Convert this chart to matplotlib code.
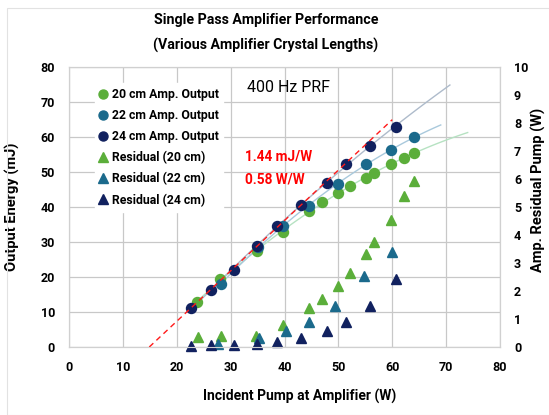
import matplotlib
matplotlib.use("Agg")
import matplotlib.pyplot as plt
import numpy as np
from matplotlib.lines import Line2D
from matplotlib.patches import Rectangle

# output energy (mJ) vs incident pump (W)
pump_20 = [23.8, 28.1, 34.9, 39.7, 44.5, 47.0, 50.0, 52.2, 55.1, 56.6, 59.8, 62.2, 64.1]
energy_20 = [13.0, 19.4, 27.3, 33.0, 38.8, 41.4, 44.0, 45.9, 48.4, 49.8, 52.2, 54.0, 55.5]
pump_22 = [28.3, 35.0, 39.7, 44.5, 50.0, 55.1, 59.8, 64.1]
energy_22 = [18.1, 28.6, 34.5, 40.4, 46.7, 52.2, 56.4, 59.9]
pump_24 = [22.7, 26.4, 30.6, 34.9, 38.6, 43.0, 47.8, 51.5, 55.8, 60.7]
energy_24 = [11.2, 16.4, 21.9, 29.0, 34.7, 40.5, 47.0, 52.3, 57.3, 63.0]

# residual pump (W)
res_pump_20 = [23.9, 28.2, 34.8, 39.7, 44.6, 47.0, 49.9, 52.2, 55.1, 56.6, 59.7, 62.2, 64.1]
res_20 = [0.34, 0.38, 0.41, 0.79, 1.38, 1.70, 2.19, 2.64, 3.33, 3.74, 4.55, 5.38, 5.92]
res_pump_22 = [27.7, 35.2, 40.3, 44.5, 49.4, 54.8, 59.9]
res_22 = [0.10, 0.32, 0.56, 0.88, 1.47, 2.55, 3.41]
res_pump_24 = [22.7, 26.4, 30.6, 34.9, 38.6, 43.0, 47.8, 51.5, 55.9, 60.7]
res_24 = [0.02, 0.07, 0.07, 0.10, 0.18, 0.32, 0.58, 0.91, 1.47, 2.43]

SLOPE = 1.44      # mJ/W
THRESHOLD = 14.9  # W, x-intercept of slope line

C20 = "#5BAE3A"
C22 = "#1B6A8C"
C24 = "#11215F"
T20 = "#B6E2C2"
T22 = "#A9C9DC"
T24 = "#AEBBCB"

plt.rcParams.update({
    "font.family": ["Roboto", "DejaVu Sans"],
    "font.weight": "bold",
    "axes.labelweight": "bold",
    "font.size": 9,
})

fig = plt.figure(figsize=(5.49, 4.15), dpi=100)
ax = fig.add_axes([69 / 549, 1 - 347 / 415, 431 / 549, 280 / 415])
ax2 = ax.twinx()

fig.patches.append(Rectangle((7 / 549, 0), 1, 1 - 8 / 415, transform=fig.transFigure,
                             fill=False, edgecolor="#E2E2E2", linewidth=0.8))

ax.set_xlim(0, 80)
ax.set_ylim(0, 80)
ax2.set_ylim(0, 10)
ax.set_xticks(range(0, 81, 10))
ax.set_yticks(range(0, 81, 10))
ax2.set_yticks(range(0, 11, 1))
ax.grid(True, color="#C8C8C8", linewidth=0.9)
ax.set_axisbelow(True)
for a in (ax, ax2):
    for s in a.spines.values():
        s.set_color("#D0D0D0")
ax.tick_params(length=0, labelsize=9, pad=10)
ax2.tick_params(length=0, labelsize=9, pad=10)

# trendlines (2nd order fits)
for px, py, end, col in [(pump_20, energy_20, 74, T20), (pump_22, energy_22, 69, T22),
                         (pump_24, energy_24, 70.7, T24)]:
    coef = np.polyfit(px, py, 2)
    xx = np.linspace(min(px), end, 100)
    ax.plot(xx, np.polyval(coef, xx), color=col, linewidth=1.0, zorder=2)

xs = np.array([THRESHOLD, 60])
ax.plot(xs, SLOPE * (xs - THRESHOLD), color="#FF1A1A", linestyle=(0, (4, 3)),
        linewidth=1.0, zorder=4)

ms = 7.2
ax.plot(pump_20, energy_20, "o", color=C20, ms=ms, zorder=3)
ax.plot(pump_22, energy_22, "o", color=C22, ms=ms, zorder=3)
ax.plot(pump_24, energy_24, "o", color=C24, ms=ms, zorder=3)
ax2.plot(res_pump_20, res_20, "^", color=C20, ms=6.5, clip_on=False)
ax2.plot(res_pump_22, res_22, "^", color=C22, ms=6.5, clip_on=False)
ax2.plot(res_pump_24, res_24, "^", color=C24, ms=6.5, clip_on=False)

ax.text(40.8, 74.1, "400 Hz PRF", fontsize=11.5, fontweight="normal",
        ha="center", va="center")
ax.text(32.6, 54.3, "1.44 mJ/W", color="#FF0000", fontsize=9.8, va="center")
ax.text(32.6, 47.8, "0.58 W/W", color="#FF0000", fontsize=9.8, va="center")

ax.set_xlabel("Incident Pump at Amplifier (W)", fontsize=10)
ax.xaxis.set_label_coords(0.536, -0.15)
ax.set_ylabel("Output Energy (mJ)", fontsize=10.5)
ax.yaxis.set_label_coords(-0.114, 0.5)
ax2.set_ylabel("Amp. Residual Pump (W)", fontsize=10.5)
ax2.yaxis.set_label_coords(1.072, 0.56)

fig.text(266 / 549, 1 - 20 / 415, "Single Pass Amplifier Performance",
         ha="center", va="center", fontsize=10.2)
fig.text(266 / 549, 1 - 45 / 415, "(Various Amplifier Crystal Lengths)",
         ha="center", va="center", fontsize=10.2)

handles = [
    Line2D([0], [0], marker="o", color="none", markerfacecolor=C20, markeredgecolor=C20,
           ms=6.5, label="20 cm Amp. Output"),
    Line2D([0], [0], marker="o", color="none", markerfacecolor=C22, markeredgecolor=C22,
           ms=6.5, label="22 cm Amp. Output"),
    Line2D([0], [0], marker="o", color="none", markerfacecolor=C24, markeredgecolor=C24,
           ms=6.5, label="24 cm Amp. Output"),
    Line2D([0], [0], marker="^", color="none", markerfacecolor=C20, markeredgecolor=C20,
           ms=6.5, label="Residual (20 cm)"),
    Line2D([0], [0], marker="^", color="none", markerfacecolor=C22, markeredgecolor=C22,
           ms=6.5, label="Residual (22 cm)"),
    Line2D([0], [0], marker="^", color="none", markerfacecolor=C24, markeredgecolor=C24,
           ms=6.5, label="Residual (24 cm)"),
]
leg = ax2.legend(handles=handles, loc="upper left", bbox_to_anchor=(0.045, 0.965),
                 frameon=True, fancybox=False, edgecolor="white", framealpha=1,
                 fontsize=8.8, handlelength=0.6, handletextpad=0.4,
                 labelspacing=0.66, borderpad=0.4)
leg.set_zorder(10)

fig.savefig("out.png", dpi=100)
